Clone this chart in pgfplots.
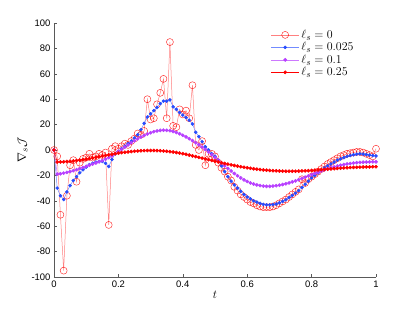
\documentclass[border=0pt]{standalone}
\usepackage{fontspec}
\setmainfont{Liberation Sans}
\usepackage{pgfplots}
\usepackage{pgfplotstable}
\pgfplotsset{compat=1.18}
\definecolor{sblue}{rgb}{0.15,0.3,1}
\definecolor{spurple}{rgb}{0.72,0.25,1}
\pgfplotstableread{
t s0 s1 s2 s3
0.00 0 0 0 0
0.01 -5 -30 -19 -9.5
0.02 -51 -36 -18.7 -9.4
0.03 -95 -39 -18.2 -9.3
0.04 -36 -33 -17.6 -9.1
0.05 -12 -28 -17 -8.9
0.06 -8 -24 -16.3 -8.6
0.07 -25 -21 -15.5 -8.3
0.08 -10 -18 -14.7 -8
0.09 -7 -15.5 -13.8 -7.6
0.10 -6 -13.5 -12.9 -7.2
0.11 -3 -11.5 -12 -6.8
0.12 -6 -10.5 -11.1 -6.3
0.13 -5 -9.5 -10.2 -5.8
0.14 -3 -9 -9.3 -5.3
0.15 -4 -9 -8.3 -4.8
0.16 -2 -10.5 -7.2 -4.3
0.17 -59 -13 -6 -3.8
0.18 1 -7.5 -4.6 -3.3
0.19 3 -3 -2.9 -2.9
0.20 1 -1 -1 -2.5
0.21 3 1 0.5 -2.1
0.22 5 3 2.3 -1.8
0.23 4 5 4 -1.5
0.24 7 7 5.7 -1.2
0.25 9 9.5 7.3 -1
0.26 13 12 8.8 -0.8
0.27 12 16 10.2 -0.6
0.28 15 21 11.5 -0.5
0.29 40 26 12.6 -0.4
0.30 24 28.5 13.6 -0.4
0.31 25 31 14.4 -0.4
0.32 36 33.5 15 -0.5
0.33 45 36.5 15.4 -0.6
0.34 56 38.5 15.6 -0.8
0.35 25 38.5 15.5 -1
0.36 85 39.5 15.2 -1.3
0.37 19 34 14.6 -1.6
0.38 18 32 13.8 -2
0.39 32 29.5 12.8 -2.4
0.40 28 27.5 11.6 -2.9
0.41 31 25.5 10.3 -3.4
0.42 25 23.5 8.9 -4
0.43 51 20.5 7.4 -4.6
0.44 4 14 5.8 -5.2
0.45 0 10.5 4.1 -5.8
0.46 7 6.5 2.3 -6.4
0.47 -12 2.5 0.4 -7
0.48 -3 0 -1.6 -7.6
0.49 -3 -3 -3.7 -8.2
0.50 -5 -5 -5.8 -8.8
0.51 -10 -8 -8 -9.4
0.52 -14 -12.5 -10.2 -10
0.53 -17 -17 -12.4 -10.6
0.54 -21 -21 -14.5 -11.1
0.55 -24 -24.5 -16.5 -11.7
0.56 -29 -27.5 -18.5 -12.2
0.57 -32 -30 -20.3 -12.7
0.58 -35 -32.5 -22 -13.2
0.59 -37 -35 -23.5 -13.6
0.60 -39 -37 -24.8 -14
0.61 -41 -38.5 -25.9 -14.4
0.62 -42 -40 -26.8 -14.8
0.63 -43.5 -41 -27.5 -15.1
0.64 -44.5 -42 -28 -15.4
0.65 -45 -42.8 -28.4 -15.7
0.66 -45 -43.2 -28.6 -15.9
0.67 -45 -43.2 -28.6 -16.1
0.68 -44.5 -43 -28.4 -16.3
0.69 -43.5 -42.5 -28.1 -16.4
0.70 -42 -41.6 -27.7 -16.5
0.71 -40.5 -40.5 -27.2 -16.6
0.72 -39 -39.2 -26.6 -16.7
0.73 -37 -37.5 -25.9 -16.7
0.74 -35 -35.8 -25.1 -16.7
0.75 -33 -34 -24.3 -16.7
0.76 -31 -32 -23.4 -16.6
0.77 -23 -29.5 -22.4 -16.5
0.78 -26 -27 -21.4 -16.4
0.79 -23 -24.5 -20.4 -16.3
0.80 -21 -22 -19.4 -16.1
0.81 -19 -20 -18.4 -15.9
0.82 -17 -18 -17.4 -15.7
0.83 -15 -16 -16.5 -15.5
0.84 -13 -14 -15.6 -15.3
0.85 -11 -12.5 -14.8 -15.1
0.86 -9.5 -11 -14 -14.9
0.87 -8 -9.5 -13.3 -14.7
0.88 -6.5 -8 -12.6 -14.5
0.89 -5 -7 -12 -14.3
0.90 -4 -6 -11.5 -14.1
0.91 -3 -5 -11 -14
0.92 -2.5 -4.3 -10.6 -13.8
0.93 -2 -3.7 -10.3 -13.7
0.94 -1.5 -3.3 -10 -13.6
0.95 -1.5 -3 -9.8 -13.5
0.96 -2 -3.2 -9.6 -13.4
0.97 -3 -3.6 -9.5 -13.3
0.98 -4 -4 -9.4 -13.3
0.99 -5 -4.4 -9.3 -13.2
1.00 1 -4.7 -9.3 -13.2
}\datatable
\begin{document}
\begin{tikzpicture}[x=1bp,y=1bp]
\useasboundingbox (-54bp,-35bp) rectangle (361bp,277bp);
\begin{axis}[
  at={(0,0)}, anchor=south west,
  scale only axis, width=322bp, height=254bp,
  xmin=0, xmax=1, ymin=-100, ymax=100,
  xtick={0,0.2,...,1}, ytick={-100,-80,...,100},
  axis x line*=bottom, axis y line*=left,
  axis line style={gray!70!black, line width=0.5pt, -},
  tick align=inside, tick style={gray!70!black, line width=0.4pt},
  major tick length=3bp,
  /pgf/number format/assume math mode=true,
  ticklabel style={font=\fontsize{9.5}{10}\selectfont},
  xlabel={$t$}, ylabel={$\nabla_s\mathcal{J}$},
  label style={font=\fontsize{13}{14}\selectfont},
  xlabel style={yshift=3bp},
  ylabel style={yshift=-3bp},
  legend style={draw=none, fill=none, at={(0.67,0.985)}, anchor=north west,
    font=\fontsize{12.5}{13}\selectfont, row sep=-1.3bp, inner sep=1bp},
  legend cell align=left,
  legend image code/.code={
    \draw[#1] (0bp,0bp) -- (28bp,0bp);
    \draw[#1, only marks] plot coordinates {(14bp,0bp)};
  },
]
\addplot[red!50, line width=0.5pt, mark=o, mark size=3.5bp,
  mark options={draw=red, fill=none, line width=0.45pt, opacity=0.85}] table[x=t,y=s0] {\datatable};
\addlegendentry{$\ell_s=0$}
\addplot[sblue!65, line width=0.5pt, mark=*, mark size=1.5bp,
  mark options={draw=sblue, fill=sblue}] table[x=t,y=s1] {\datatable};
\addlegendentry{$\ell_s=0.025$}
\addplot[spurple!70, line width=0.5pt, mark=*, mark size=1.6bp,
  mark options={draw=spurple, fill=spurple}] table[x=t,y=s2] {\datatable};
\addlegendentry{$\ell_s=0.1$}
\addplot[red, line width=0.5pt, mark=*, mark size=1.6bp,
  mark options={draw=red, fill=red}] table[x=t,y=s3] {\datatable};
\addlegendentry{$\ell_s=0.25$}
\end{axis}
\end{tikzpicture}
\end{document}
